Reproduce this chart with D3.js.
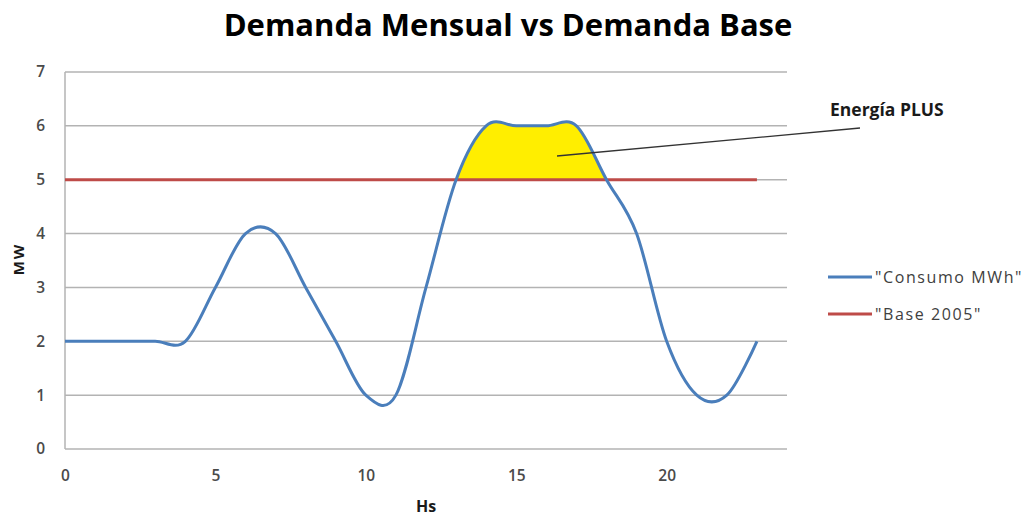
<!DOCTYPE html>
<html>
<head>
<meta charset="utf-8">
<script src="https://cdn.jsdelivr.net/npm/d3@7"></script>
<style>
  body { margin: 0; background: #fff; }
  text { font-family: "Open Sans", "Liberation Sans", sans-serif; }
</style>
</head>
<body>
<svg id="chart" width="1028" height="519"></svg>
<script>
const hours = d3.range(0, 24);
const consumo = [2, 2, 2, 2, 2, 3, 4, 4, 3, 2, 1, 1, 3, 5, 6, 6, 6, 6, 5, 4, 2, 1, 1, 2];
const base = hours.map(() => 5);
const xTicks = [0, 5, 10, 15, 20];
const yTicks = [0, 1, 2, 3, 4, 5, 6, 7];
const seriesNames = ["\"Consumo MWh\"", "\"Base 2005\""];
const seriesColors = ["#4a7ebb", "#be4b48"];

const svg = d3.select("#chart");
const margin = { left: 65, right: 241, top: 72, bottom: 70 };
const width = 1028, height = 519;

const x = d3.scaleLinear().domain([0, 24]).range([margin.left, width - margin.right]);
const y = d3.scaleLinear().domain([0, 7]).range([height - margin.bottom, margin.top]);

// title
svg.append("text")
  .attr("x", 508)
  .attr("y", 36)
  .attr("text-anchor", "middle")
  .style("font-size", "31px")
  .style("font-weight", 700)
  .attr("fill", "#000")
  .text("Demanda Mensual vs Demanda Base");

// grid
svg.append("g")
  .selectAll("line")
  .data(yTicks)
  .join("line")
  .attr("x1", x(0))
  .attr("x2", x(24))
  .attr("y1", d => y(d))
  .attr("y2", d => y(d))
  .attr("stroke", "#b3b3b3")
  .attr("stroke-width", 1.5);

svg.append("line")
  .attr("x1", x(0)).attr("x2", x(0))
  .attr("y1", y(0)).attr("y2", y(7))
  .attr("stroke", "#b3b3b3")
  .attr("stroke-width", 1.5);

// axes labels
const yAxis = d3.axisLeft(y).tickValues(yTicks).tickFormat(d3.format("d")).tickSize(0).tickPadding(20);
svg.append("g")
  .attr("transform", `translate(${x(0)},0)`)
  .call(yAxis)
  .call(g => g.select(".domain").remove())
  .call(g => g.selectAll("text")
    .style("font-size", "15.5px")
    .style("font-weight", 600)
    .style("font-family", "'Open Sans', sans-serif")
    .attr("fill", "#4a4a4a"));

const xAxis = d3.axisBottom(x).tickValues(xTicks).tickSize(0).tickPadding(21);
svg.append("g")
  .attr("transform", `translate(0,${y(0)})`)
  .call(xAxis)
  .call(g => g.select(".domain").remove())
  .call(g => g.selectAll("text")
    .style("font-size", "15.5px")
    .style("font-weight", 600)
    .style("font-family", "'Open Sans', sans-serif")
    .attr("fill", "#4a4a4a"));

svg.append("text")
  .attr("transform", "translate(24,259) rotate(-90)")
  .attr("text-anchor", "middle")
  .style("font-size", "15px")
  .style("font-weight", 700)
  .style("letter-spacing", "2px")
  .attr("fill", "#1a1a1a")
  .text("MW");

svg.append("text")
  .attr("x", 426)
  .attr("y", 512)
  .attr("text-anchor", "middle")
  .style("font-size", "16px")
  .style("font-weight", 700)
  .attr("fill", "#1a1a1a")
  .text("Hs");

// yellow excess area
const consumoPts = hours.map((h, i) => ({ h, v: consumo[i] }));
const curve = d3.curveCardinal.tension(0);

svg.append("clipPath")
  .attr("id", "above-base")
  .append("rect")
  .attr("x", x(0))
  .attr("y", y(7))
  .attr("width", x(24) - x(0))
  .attr("height", y(5) - y(7));

svg.append("path")
  .datum(consumoPts)
  .attr("clip-path", "url(#above-base)")
  .attr("fill", "#ffee00")
  .attr("d", d3.area()
    .x(d => x(d.h))
    .y0(y(5))
    .y1(d => y(d.v))
    .curve(curve));

// base line
svg.append("path")
  .datum(hours.map((h, i) => ({ h, v: base[i] })))
  .attr("fill", "none")
  .attr("stroke", seriesColors[1])
  .attr("stroke-width", 3)
  .attr("d", d3.line().x(d => x(d.h)).y(d => y(d.v)));

// consumo line
svg.append("path")
  .datum(consumoPts)
  .attr("fill", "none")
  .attr("stroke", seriesColors[0])
  .attr("stroke-width", 3)
  .attr("d", d3.line().x(d => x(d.h)).y(d => y(d.v)).curve(curve));

// annotation
svg.append("line")
  .attr("x1", 557).attr("y1", 156)
  .attr("x2", 860).attr("y2", 128)
  .attr("stroke", "#333")
  .attr("stroke-width", 1.3);

svg.append("text")
  .attr("x", 830)
  .attr("y", 116)
  .style("font-size", "17.5px")
  .style("font-weight", 700)
  .attr("fill", "#1a1a1a")
  .text("Energía PLUS");

// legend
const legend = svg.append("g")
  .selectAll("g")
  .data(seriesNames)
  .join("g")
  .attr("transform", (d, i) => `translate(828,${277 + i * 37})`);

legend.append("line")
  .attr("x1", 0).attr("x2", 44)
  .attr("stroke", (d, i) => seriesColors[i])
  .attr("stroke-width", 3);

legend.append("text")
  .attr("x", 47)
  .attr("y", 6)
  .style("font-size", "16px")
  .style("letter-spacing", "1.6px")
  .attr("fill", "#404040")
  .text(d => d);
</script>
</body>
</html>
